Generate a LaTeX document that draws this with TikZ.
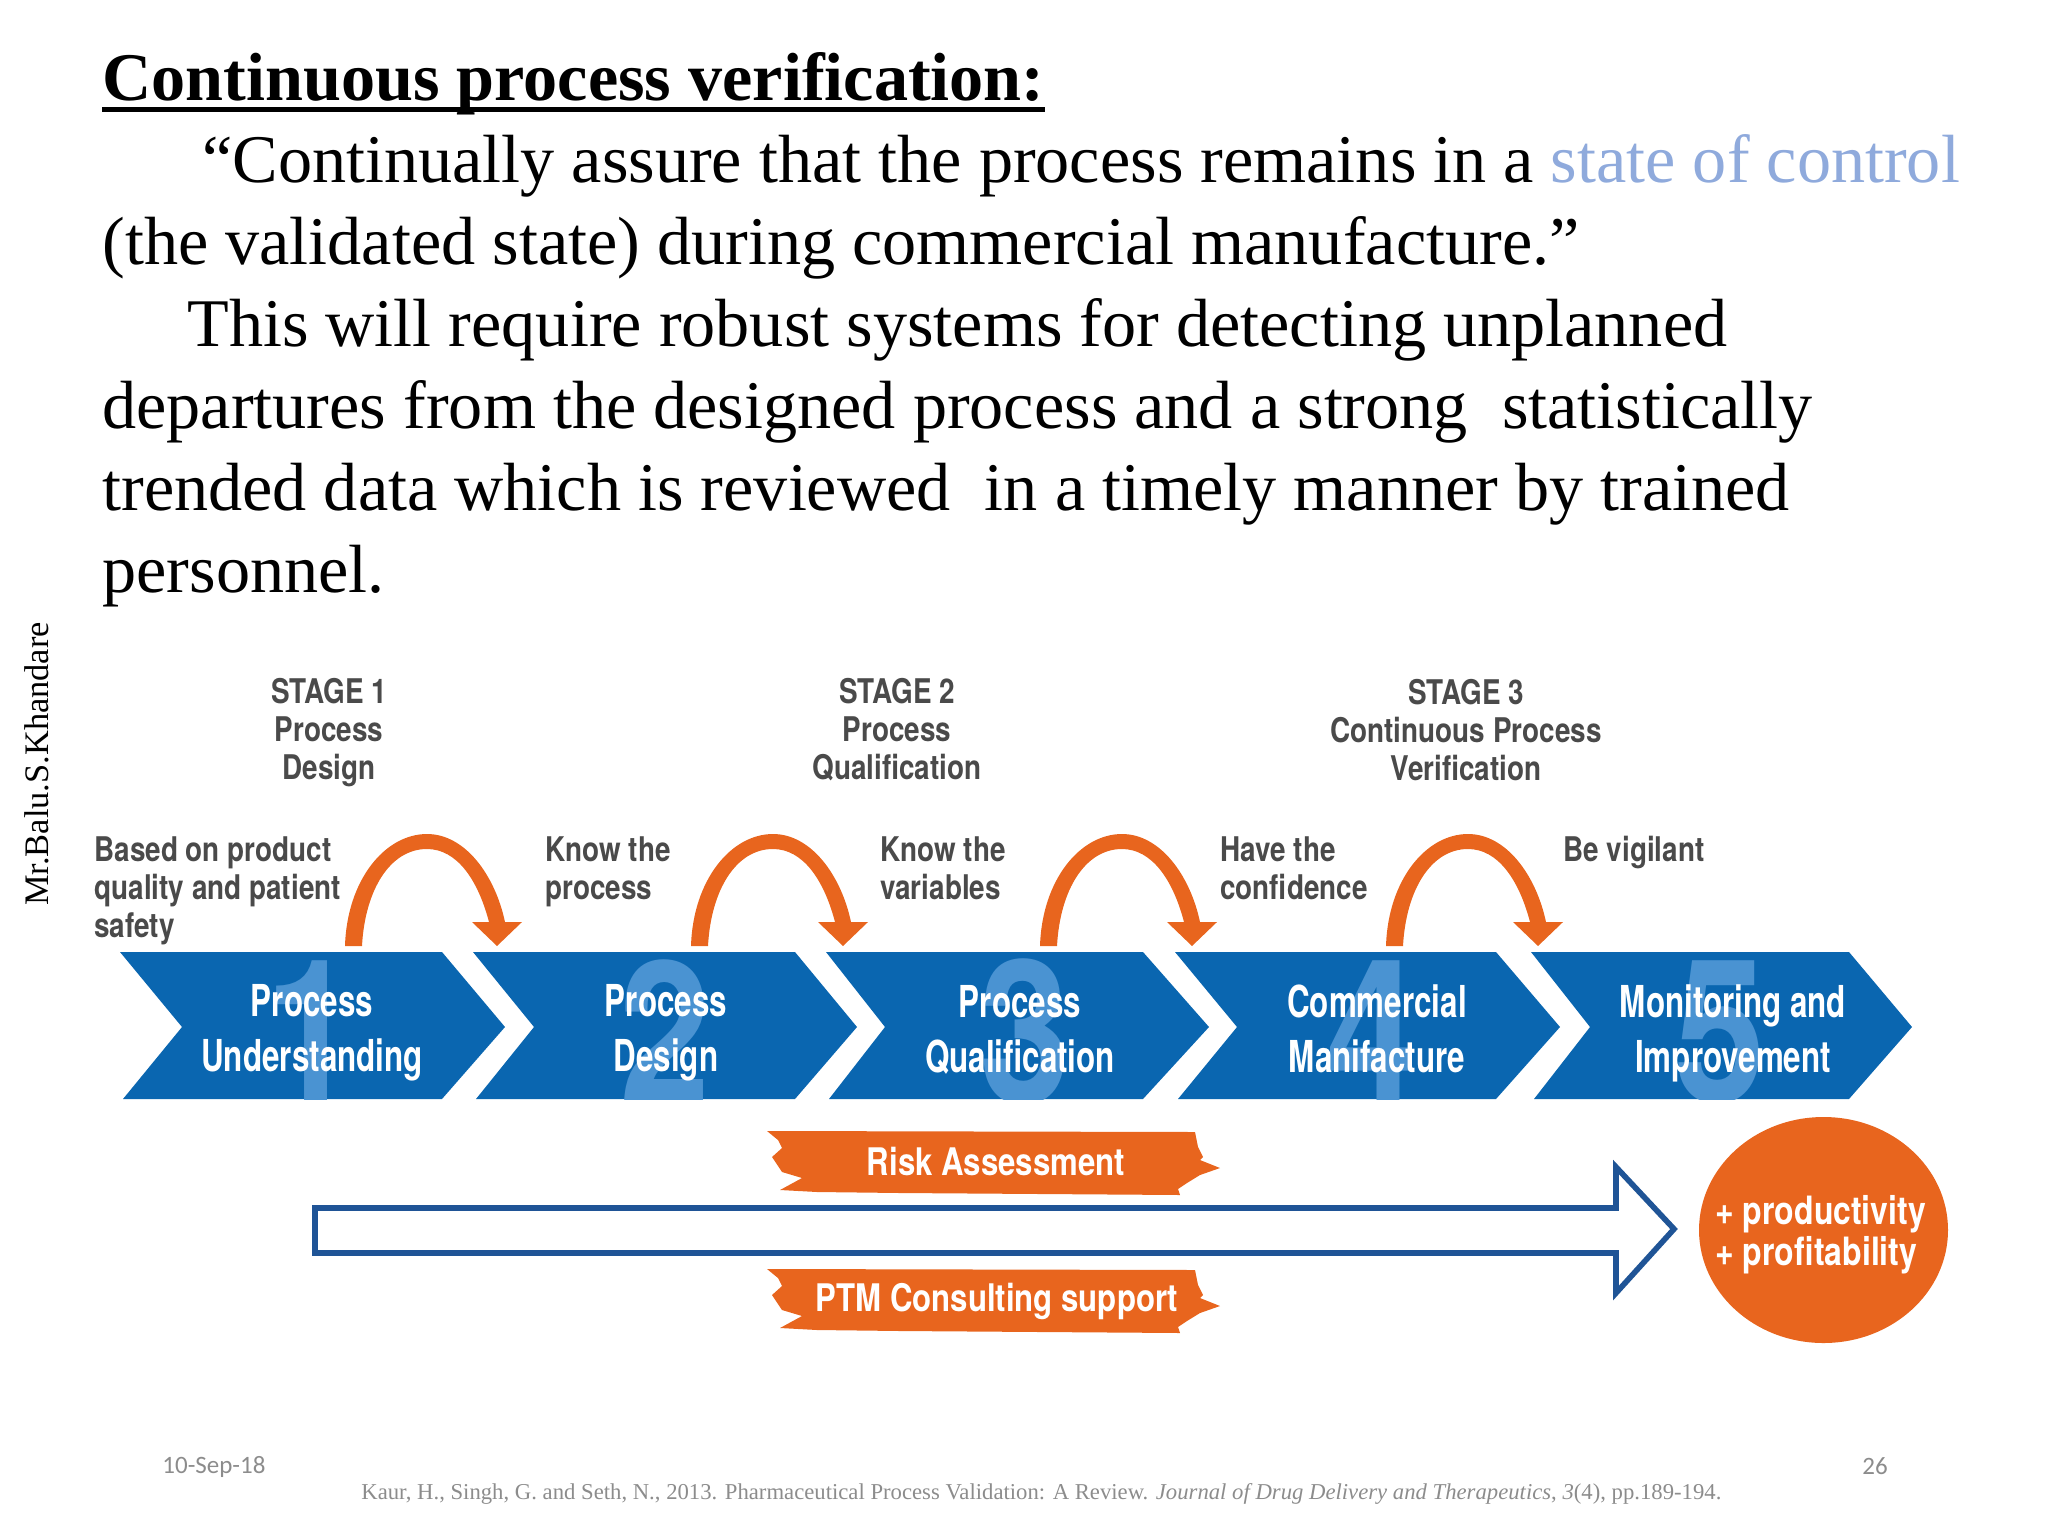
\documentclass[tikz,border=0pt]{standalone}
\usepackage{fontspec}
\setmainfont{Liberation Serif}
\newfontfamily\narb[FakeStretch=0.82]{TeX Gyre Heros}
\newfontfamily\chevf[FakeStretch=0.713]{TeX Gyre Heros}
\newfontfamily\cali{Carlito}
\definecolor{chev}{HTML}{0A66B0}
\definecolor{digit}{HTML}{4A93D2}
\definecolor{orng}{HTML}{E8651E}
\definecolor{grytx}{HTML}{4A4A4A}
\definecolor{foot}{HTML}{8C8C8C}
\definecolor{ctrl}{HTML}{8FAADC}
\definecolor{arrowblue}{HTML}{1F5496}
\tikzset{
  x=0.5pt,y=-0.5pt,
  bodyline/.style={anchor=base west,inner sep=0,font=\fontsize{34.1}{34}\selectfont},
  stagetext/.style={align=center,inner sep=0,text=grytx,font=\narb\bfseries\fontsize{17}{19}\selectfont},
  notetext/.style={anchor=north west,align=left,inner sep=0,text=grytx,font=\narb\bfseries\fontsize{17}{19}\selectfont},
  chevtext/.style={align=center,inner sep=0,text=white,font=\chevf\bfseries\fontsize{22}{27.5}\selectfont},
  bigdigit/.style={inner sep=0,text=digit,font=\narb\bfseries\fontsize{100}{100}\selectfont},
  bannertext/.style={inner sep=0,text=white,font=\narb\bfseries\fontsize{19}{19}\selectfont},
  circletext/.style={anchor=base west,inner sep=0,text=white,font=\narb\bfseries\fontsize{19.5}{19.5}\selectfont},
  chevfill/.style={fill=chev},
  orangefill/.style={fill=orng},
  loopback/.pic={
    \fill[orng] (0,946) .. controls (2,880) and (40,834) .. (82,834)
      .. controls (120,834) and (150,875) .. (160,922)
      -- (177,922) -- (152,946) -- (127,922) -- (144,922)
      .. controls (133,880) and (112,849) .. (82,849)
      .. controls (45,849) and (20,890) .. (17,946) -- cycle;
  },
  tornstrip/.pic={
    \fill[orng] (767,1131) -- (1195,1132) -- (1198,1147) -- (1203,1157) -- (1200,1160)
      -- (1220,1168) -- (1200,1175) -- (1187,1183) -- (1178,1189) -- (1180,1195)
      -- (900,1193) -- (817,1192) -- (780,1190) -- (802,1178) -- (782,1172)
      -- (772,1157) -- (782,1148) -- (778,1140) -- cycle;
  },
}
\begin{document}
\begin{tikzpicture}
\useasboundingbox (0,0) rectangle (2048,1536);
% text block
\node[bodyline,font=\bfseries\fontsize{34.1}{34}\selectfont] (title) at (102,100) {Continuous process verification:};
\draw[line width=2.2pt] ([yshift=-4.8pt]title.base west) -- ([yshift=-4.8pt]title.base east);
\node[bodyline] (l1) at (202,182) {“Continually assure that the process remains in a \textcolor{ctrl}{state of control}};
\node[bodyline] (l2) at (102,264) {(the validated state) during commercial manufacture.”};
\node[bodyline] (l3) at (187,346) {This will require robust systems for detecting unplanned};
\node[bodyline] (l4) at (102,428) {departures from the designed process and a strong\ \ statistically};
\node[bodyline] (l5) at (102,510) {trended data which is reviewed\ \ in a timely manner by trained};
\node[bodyline] (l6) at (102,592) {personnel.};
\node[rotate=90,inner sep=0,font=\fontsize{17.2}{17}\selectfont] (author) at (37,764) {Mr.Balu.S.Khandare};
% stage headings
\node[stagetext] (s1) at (329,733) {STAGE 1\\Process\\Design};
\node[stagetext] (s2) at (897,730) {STAGE 2\\Process\\Qualification};
\node[stagetext] (s3) at (1466,730) {STAGE 3\\Continuous Process\\Verification};
% notes
\node[notetext] (n1) at (94,836) {Based on product\\quality and patient\\safety};
\node[notetext] (n2) at (545,836) {Know the\\process};
\node[notetext] (n3) at (880,836) {Know the\\variables};
\node[notetext] (n4) at (1220,836) {Have the\\confidence};
\node[notetext] (n5) at (1563,836) {Be vigilant};
% loops
\pic at (345,0) {loopback};
\pic at (691,0) {loopback};
\pic at (1040,0) {loopback};
\pic at (1386,0) {loopback};
% chevrons
\fill[chevfill] (120,952) -- (442,952) -- (505,1027) -- (442,1099) -- (123,1099) -- (182,1027) -- cycle;
\fill[chevfill] (473,952) -- (795,952) -- (857,1027) -- (795,1099) -- (476,1099) -- (534,1027) -- cycle;
\fill[chevfill] (826,952) -- (1143,952) -- (1209,1027) -- (1143,1099) -- (829,1099) -- (885,1027) -- cycle;
\fill[chevfill] (1175,952) -- (1496,952) -- (1560,1027) -- (1496,1099) -- (1178,1099) -- (1237,1027) -- cycle;
\fill[chevfill] (1531,952) -- (1849,952) -- (1912,1027) -- (1849,1099) -- (1534,1099) -- (1590,1027) -- cycle;
% digits
\begin{scope}
\clip (0,952) rectangle (2048,1099);
\node[bigdigit] (d1) at (311,1032) {1};
\node[bigdigit] (d2) at (665,1032) {2};
\node[bigdigit] (d3) at (1025,1032) {3};
\node[bigdigit] (d4) at (1372,1032) {4};
\node[bigdigit] (d5) at (1720,1032) {5};
\end{scope}
% chevron labels
\node[chevtext] (c1) at (312,1033) {Process\\Understanding};
\node[chevtext] (c2) at (666,1033) {Process\\Design};
\node[chevtext] (c3) at (1020,1030) {Process\\Qualification};
\node[chevtext] (c4) at (1377,1029) {Commercial\\Manifacture};
\node[chevtext] (c5) at (1733,1033) {Monitoring and\\Improvement};
% banners
\pic at (0,0) {tornstrip};
\pic at (0,138) {tornstrip};
\node[bannertext] (risk) at (996,1161) {Risk Assessment};
\node[bannertext] (ptm) at (997,1301) {PTM Consulting support};
% big arrow
\draw[arrowblue,line width=2.8pt,fill=white,miter limit=10] (315,1208) -- (1616,1208) -- (1616,1167) -- (1674,1229) -- (1616,1293) -- (1616,1253) -- (315,1253) -- cycle;
% circle
\fill[orangefill] (1823.5,1230) ellipse [x radius=124.5,y radius=113];
\node[circletext] (pr1) at (1715,1224) {+ productivity};
\node[circletext] (pr2) at (1715,1265) {+ profitability};
% footer
\node[anchor=west,inner sep=0,text=foot,font=\cali\fontsize{12.5}{12.5}\selectfont] (date) at (162,1467) {10-Sep-18};
\node[anchor=center,inner sep=0,text=foot,font=\cali\fontsize{12.5}{12.5}\selectfont] (page) at (1875,1466) {26};
\node[anchor=base west,inner sep=0,text=foot,font=\fontsize{11.35}{12}\selectfont] (ref) at (361,1499) {Kaur, H., Singh, G. and Seth, N., 2013. Pharmaceutical Process Validation: A Review. \textit{Journal of Drug Delivery and Therapeutics}, \textit{3}(4), pp.189-194.};
\end{tikzpicture}
\end{document}
